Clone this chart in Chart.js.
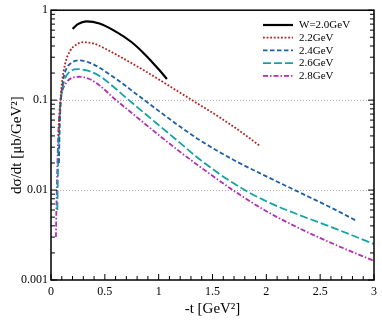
<!DOCTYPE html>
<html>
<head>
<meta charset="utf-8">
<script src="https://cdn.jsdelivr.net/npm/chart.js@4"></script>
<style>
  body { margin: 0; background: #fff; }
  #wrap { width: 382px; height: 331px; position: relative; }
</style>
</head>
<body>
<div id="wrap"><canvas id="chart"></canvas></div>
<script>
// DATA

const seriesLabels = ['W=2.0GeV', '2.2GeV', '2.4GeV', '2.6GeV', '2.8GeV'];

const t20 = [0.2, 0.25, 0.33, 0.45, 0.61, 0.75, 0.886, 1.0, 1.077];
const v20 = [0.62, 0.70, 0.75, 0.71, 0.57, 0.44, 0.31, 0.22, 0.172];

const t22 = [0.07, 0.077, 0.085, 0.1, 0.13, 0.176, 0.23, 0.3, 0.4, 0.5, 0.608, 0.85, 1.07, 1.27, 1.565, 1.75, 1.94];
const v22 = [0.04, 0.06, 0.09, 0.15, 0.25, 0.35, 0.41, 0.44, 0.425, 0.375, 0.32, 0.219, 0.151, 0.107, 0.0646, 0.0457, 0.031];

const t24 = [0.074, 0.078, 0.085, 0.095, 0.11, 0.14, 0.19, 0.262, 0.35, 0.45, 0.6, 0.8, 1.0, 1.19, 1.38, 1.7, 2.0, 2.31, 2.61, 2.845];
const v24 = [0.02, 0.035, 0.07, 0.11, 0.16, 0.22, 0.26, 0.277, 0.263, 0.229, 0.174, 0.115, 0.0759, 0.0516, 0.036, 0.0215, 0.0142, 0.0094, 0.0063, 0.0045];

const t26 = [0.059, 0.063, 0.07, 0.08, 0.095, 0.12, 0.17, 0.253, 0.35, 0.45, 0.55, 0.69, 0.85, 1.0, 1.19, 1.38, 1.7, 2.0, 2.31, 2.61, 3.0];
const v26 = [0.006, 0.012, 0.03, 0.065, 0.11, 0.16, 0.205, 0.221, 0.211, 0.186, 0.151, 0.108, 0.0746, 0.0528, 0.0341, 0.022, 0.0118, 0.0075, 0.00526, 0.00385, 0.00251];

const t28 = [0.046, 0.05, 0.056, 0.063, 0.072, 0.085, 0.1, 0.14, 0.2, 0.262, 0.35, 0.45, 0.58, 0.75, 0.95, 1.19, 1.38, 1.7, 2.0, 2.31, 2.61, 3.0];
const v28 = [0.003, 0.006, 0.013, 0.028, 0.055, 0.09, 0.12, 0.155, 0.178, 0.182, 0.173, 0.146, 0.106, 0.0719, 0.0458, 0.0271, 0.0183, 0.0098, 0.00582, 0.00374, 0.00256, 0.00163];

const xTicks = [0, 0.5, 1, 1.5, 2, 2.5, 3];
const yTicks = [1, 0.1, 0.01, 0.001];
const gridValues = [0.1, 0.01];


// HELPERS

const SERIF = "'Liberation Serif', 'DejaVu Serif', serif";
const pts = (ts, vs) => ts.map((t, i) => ({ x: t, y: vs[i] }));

const line = (label, ts, vs, color, dash, width = 1.8) => ({
    label,
    data: pts(ts, vs),
    borderColor: color,
    borderDash: dash,
    borderWidth: width,
    pointRadius: 0,
    fill: false,
    cubicInterpolationMode: 'monotone'
});


// PLUGINS

// frame, dotted grid and inward tick marks
const framePlugin = {
    id: 'frame',
    beforeDatasetsDraw(chart) {
        const { ctx, chartArea: a, scales: { y } } = chart;
        ctx.save();
        ctx.strokeStyle = '#b0b0b0';
        ctx.lineWidth = 1;
        ctx.setLineDash([1, 2]);
        gridValues.forEach(v => {
            const py = Math.round(y.getPixelForValue(v)) + 0.5;
            ctx.beginPath();
            ctx.moveTo(a.left, py);
            ctx.lineTo(a.right, py);
            ctx.stroke();
        });
        ctx.restore();
    },
    afterDraw(chart) {
        const { ctx, chartArea: a, scales: { x, y } } = chart;
        ctx.save();
        ctx.strokeStyle = '#000';
        ctx.lineWidth = 1;
        ctx.beginPath();
        for (let i = 0; i <= 30; i++) {
            const px = x.getPixelForValue(i / 10);
            const len = i % 5 === 0 ? 6 : 4;
            ctx.moveTo(px, a.bottom);
            ctx.lineTo(px, a.bottom - len);
        }
        for (let d = -3; d <= 0; d++) {
            for (let m = 1; m <= 9; m++) {
                const v = m * Math.pow(10, d);
                if (v > 1) break;
                const py = y.getPixelForValue(v);
                const len = m === 1 ? 6 : 4;
                ctx.moveTo(a.left, py);
                ctx.lineTo(a.left + len, py);
                ctx.moveTo(a.right, py);
                ctx.lineTo(a.right - len, py);
            }
        }
        ctx.stroke();
        ctx.lineWidth = 1.5;
        ctx.strokeRect(a.left, a.top, a.right - a.left, a.bottom - a.top);
        ctx.restore();
    }
};

// legend in the upper right, drawn from the dataset styles
const legendPlugin = {
    id: 'plotLegend',
    afterDraw(chart) {
        const { ctx } = chart;
        ctx.save();
        ctx.font = `11px ${SERIF}`;
        ctx.textBaseline = 'middle';
        ctx.fillStyle = '#000';
        chart.data.datasets.forEach((ds, i) => {
            const yy = 25 + i * 12.7;
            ctx.strokeStyle = ds.borderColor;
            ctx.lineWidth = ds.borderWidth;
            ctx.setLineDash(ds.borderDash || []);
            ctx.beginPath();
            ctx.moveTo(263, yy);
            ctx.lineTo(293, yy);
            ctx.stroke();
            ctx.fillText(ds.label, 299, yy + 0.5);
        });
        ctx.restore();
    }
};


// CHART

const datasets = [
    line(seriesLabels[0], t20, v20, '#000000', [], 2.2),
    line(seriesLabels[1], t22, v22, '#b5231b', [1.8, 1.8]),
    line(seriesLabels[2], t24, v24, '#1f5fa6', [4.5, 2.5]),
    line(seriesLabels[3], t26, v26, '#14a3a3', [8, 3]),
    line(seriesLabels[4], t28, v28, '#b12db1', [5, 2, 1.5, 2])
];

new Chart(document.getElementById('chart'), {
    type: 'line',
    data: { datasets },
    options: {
        responsive: true,
        maintainAspectRatio: false,
        animation: false,
        layout: { padding: { top: 7, right: 7, left: 0, bottom: 0 } },
        plugins: { legend: { display: false }, tooltip: { enabled: false } },
        scales: {
            x: {
                type: 'linear',
                min: 0,
                max: 3,
                afterFit: s => { s.height = 51; },
                afterBuildTicks: s => { s.ticks = xTicks.map(v => ({ value: v })); },
                grid: { display: false, drawTicks: false },
                border: { display: false },
                ticks: {
                    padding: 5,
                    color: '#000',
                    font: { family: SERIF, size: 12 },
                    maxRotation: 0,
                    callback: v => String(v)
                },
                title: {
                    display: true,
                    text: '-t [GeV²]',
                    color: '#000',
                    font: { family: SERIF, size: 15 },
                    padding: { top: 13, bottom: 13 }
                }
            },
            y: {
                type: 'logarithmic',
                min: 0.001,
                max: 1,
                afterFit: s => { s.width = 51; },
                afterBuildTicks: s => { s.ticks = yTicks.map(v => ({ value: v })); },
                grid: { display: false, drawTicks: false },
                border: { display: false },
                ticks: {
                    padding: 3,
                    color: '#000',
                    autoSkip: false,
                    font: { family: SERIF, size: 12 },
                    callback: v => String(v)
                },
                title: {
                    display: true,
                    text: 'dσ/dt [μb/GeV²]',
                    color: '#000',
                    font: { family: SERIF, size: 15 },
                    padding: { top: 8, bottom: 8 }
                }
            }
        }
    },
    plugins: [framePlugin, legendPlugin]
});
</script>
</body>
</html>
